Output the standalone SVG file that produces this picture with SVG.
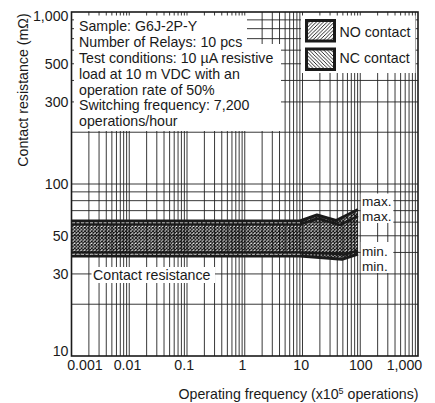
<svg xmlns="http://www.w3.org/2000/svg" width="435" height="403" viewBox="0 0 435 403">
<style>
text{font-family:"Liberation Sans",Arial,Helvetica,sans-serif;font-size:14.2px;fill:#1a1a1a}
.grid{stroke:#222;stroke-width:0.9;fill:none}
.wb{fill:#fff;stroke:none}
.curve{fill:none;stroke:#1a1a1a;stroke-linejoin:round}
.dash{fill:none;stroke:#fff;stroke-width:0.7;stroke-dasharray:3 1.5}
.lbl{font-size:13.6px}
</style>
<defs>
<pattern id="xh" width="3.4" height="3.4" patternUnits="userSpaceOnUse">
<path d="M0 0L3.4 3.4M3.4 0L0 3.4" stroke="#111" stroke-width="1.1"/>
</pattern>
<pattern id="hNO" width="3.6" height="3.6" patternUnits="userSpaceOnUse">
<path d="M-1 4.6L4.6 -1M-1 1L1 -1M2.6 4.6L4.6 2.6M0 3.6L3.6 0" stroke="#111" stroke-width="0.9"/>
</pattern>
<pattern id="hNC" width="3.6" height="3.6" patternUnits="userSpaceOnUse">
<path d="M0 0L3.6 3.6M-1 2.6L1 4.6M2.6 -1L4.6 1" stroke="#111" stroke-width="0.9"/>
</pattern>
</defs>
<rect width="435" height="403" fill="#fff"/>
<g id="grid">
<path class="grid" d="M88.88 12V356M99.05 12V356M106.27 12V356M111.87 12V356M116.44 12V356M120.3 12V356M123.65 12V356M126.61 12V356M129.25 12V356M146.63 12V356M156.8 12V356M164.02 12V356M169.62 12V356M174.19 12V356M178.05 12V356M181.4 12V356M184.36 12V356M187 12V356M204.38 12V356M214.55 12V356M221.77 12V356M227.37 12V356M231.94 12V356M235.8 12V356M239.15 12V356M242.11 12V356M244.75 12V356M262.13 12V356M272.3 12V356M279.52 12V356M285.12 12V356M289.69 12V356M293.55 12V356M296.9 12V356M299.86 12V356M302.5 12V356M319.88 12V356M330.05 12V356M337.27 12V356M342.87 12V356M347.44 12V356M351.3 12V356M354.65 12V356M357.61 12V356M360.25 12V356M377.63 12V356M387.8 12V356M395.02 12V356M400.62 12V356M405.19 12V356M409.05 12V356M412.4 12V356M415.36 12V356"/>
<path class="grid" d="M71.5 19.87H418M71.5 28.67H418M71.5 38.64H418M71.5 50.16H418M71.5 63.78H418M71.5 80.45H418M71.5 101.93H418M71.5 132.22H418M71.5 184H418M71.5 191.87H418M71.5 200.67H418M71.5 210.64H418M71.5 222.16H418M71.5 235.78H418M71.5 252.45H418M71.5 273.93H418M71.5 304.22H418"/>
</g>
<g id="curves">
<path d="M72 222H300L317 216L336 221.5L358 211V255L342 258.5L300 255H72Z" fill="url(#xh)"/>
<path class="curve" stroke-width="3" d="M72 221H300L317 215L336 220.5L358 209.5"/>
<path class="curve" stroke-width="2.5" d="M72 224.3H300L318 218.5L340 225L358 216"/>
<path class="dash" d="M72 222.8H300"/>
<path class="curve" stroke-width="2.5" d="M72 252.6H300L330 253.5L345 254.5L358 250.5"/>
<path class="curve" stroke-width="3" d="M72 256H300L342 259.3L358 254"/>
<path class="dash" d="M72 254.3H300"/>
</g>
<g id="conditions">
<path class="wb" d="M74 15.5H247V44H281V131H74Z"/>
<text x="79" y="31.2">Sample: G6J-2P-Y</text>
<text x="79" y="47">Number of Relays: 10 pcs</text>
<text x="79" y="62.9">Test conditions: 10 µA resistive</text>
<text x="79" y="78.7">load at 10 m VDC with an</text>
<text x="79" y="94.5">operation rate of 50%</text>
<text x="79" y="110.3">Switching frequency: 7,200</text>
<text x="79" y="126.1">operations/hour</text>
</g>
<g id="legend">
<rect class="wb" x="301" y="15.5" width="114.5" height="57.5"/>
<rect x="306.5" y="20.5" width="28" height="20.5" fill="url(#hNO)" stroke="#1a1a1a" stroke-width="3"/>
<text x="339.5" y="37">NO contact</text>
<rect x="306.5" y="49" width="28" height="20.5" fill="url(#hNC)" stroke="#1a1a1a" stroke-width="3"/>
<text x="339.5" y="63">NC contact</text>
</g>
<g id="curve-labels">
<rect class="wb" x="360.8" y="193.5" width="32.5" height="29.5"/>
<text class="lbl" x="362" y="206.3">max.</text>
<text class="lbl" x="362" y="221.2">max.</text>
<rect class="wb" x="360.8" y="242" width="32.5" height="31"/>
<text class="lbl" x="362" y="255.8">min.</text>
<text class="lbl" x="362" y="270.9">min.</text>
<rect class="wb" x="91.5" y="267" width="123.5" height="16"/>
<text x="93" y="279.5">Contact resistance</text>
</g>
<g id="axes">
<rect x="71.5" y="12" width="346.5" height="344" fill="none" stroke="#1a1a1a" stroke-width="1.6"/>
<g text-anchor="end">
<text x="68.5" y="20.5">1,000</text>
<text x="68.5" y="68.8">500</text>
<text x="68.5" y="106.9">300</text>
<text x="68.5" y="189">100</text>
<text x="68.5" y="240.8">50</text>
<text x="68.5" y="279">30</text>
<text x="68.5" y="356">10</text>
</g>
<g text-anchor="middle">
<text x="85" y="369.5">0.001</text>
<text x="127.5" y="369.5">0.01</text>
<text x="184.2" y="369.5">0.1</text>
<text x="242.5" y="369.5">1</text>
<text x="301.2" y="369.5">10</text>
<text x="360.8" y="369.5">100</text>
<text x="404.5" y="369.5">1,000</text>
</g>
<text x="178.5" y="399">Operating frequency (x10<tspan font-size="9" dy="-5.5">5</tspan><tspan dy="5.5"> operations)</tspan></text>
<text transform="translate(28.3 90) rotate(-90)" text-anchor="middle">Contact resistance (mΩ)</text>
</g>
</svg>
